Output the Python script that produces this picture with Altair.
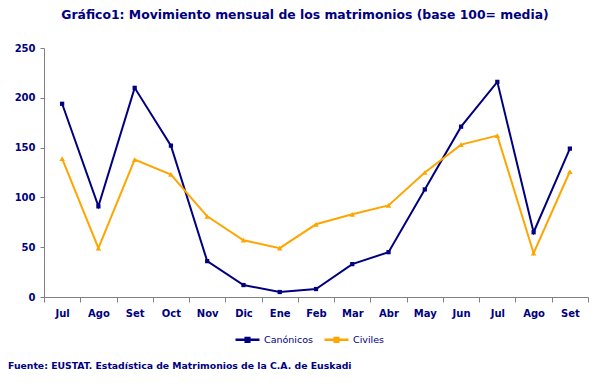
import altair as alt
import pandas as pd

months = ["Jul", "Ago", "Set", "Oct", "Nov", "Dic", "Ene", "Feb", "Mar", "Abr",
          "May", "Jun", "Jul", "Ago", "Set"]
canonicos = [194, 91, 210, 152, 36, 12, 5, 8, 33, 45, 108, 171, 216, 65, 149]
civiles = [139, 49, 138, 123, 81, 57, 49, 73, 83, 92, 125, 153, 162, 44, 126]
series = ["Canónicos", "Civiles"]

keys = [f"{m}-{i}" for i, m in enumerate(months)]
rows = []
for k, v in zip(keys, canonicos):
    rows.append({"mes": k, "serie": series[0], "marca": series[0], "valor": v})
for k, v in zip(keys, civiles):
    rows.append({"mes": k, "serie": series[1], "marca": series[1], "valor": v})
df = pd.DataFrame(rows)

NAVY = "#000080"
ORANGE = "#FFA500"
FONT = "DejaVu Sans"

x = alt.X("mes:N", sort=keys, title=None,
          scale=alt.Scale(type="band", paddingInner=0, paddingOuter=0),
          bandPosition=0.5,
          axis=alt.Axis(labelExpr="split(datum.label, '-')[0]", labelAngle=0,
                        tickBand="extent", labelPadding=6, tickSize=5))
y = alt.Y("valor:Q", title=None,
          scale=alt.Scale(domain=[0, 250], nice=False),
          axis=alt.Axis(values=[0, 50, 100, 150, 200, 250], grid=False,
                        tickSize=4, labelPadding=5))
color = alt.Color("serie:N", scale=alt.Scale(domain=series, range=[NAVY, ORANGE]),
                  legend=alt.Legend(title=None, orient="none", direction="horizontal",
                                    legendX=190, legendY=278,
                                    symbolType="M-1,0L1,0M-0.15,-0.15L0.15,-0.15L0.15,0.15L-0.15,0.15Z",
                                    symbolSize=576, symbolStrokeWidth=2.5,
                                    labelFont=FONT, labelFontSize=9.5, labelColor=NAVY,
                                    labelFontWeight="normal", columnPadding=6,
                                    labelOffset=3, symbolOffset=0))

lines = alt.Chart(df).mark_line(strokeWidth=2).encode(x=x, y=y, color=color)
points = alt.Chart(df).mark_point(filled=True, opacity=1).encode(
    x=x, y=y,
    fill=alt.Fill("marca:N", scale=alt.Scale(domain=series, range=[NAVY, ORANGE]), legend=None),
    shape=alt.Shape("marca:N", scale=alt.Scale(domain=series, range=["square", "triangle-up"]),
                    legend=None),
    size=alt.Size("marca:N", scale=alt.Scale(domain=series, range=[18, 30]), legend=None),
)
source = alt.Chart(pd.DataFrame({"t": ["Fuente: EUSTAT. Estadística de Matrimonios de la C.A. de Euskadi"]})).mark_text(
    align="left", baseline="middle", font=FONT, fontSize=9.3, fontWeight="bold", color=NAVY
).encode(x=alt.value(-36), y=alt.value(318), text="t:N")

chart = alt.layer(lines, points, source).resolve_scale(color="independent").properties(
    width=544, height=249,
    title=alt.TitleParams("Gráfico1: Movimiento mensual de los matrimonios (base 100= media)",
                          font=FONT, fontSize=12.4, fontWeight="bold", color=NAVY,
                          anchor="middle", offset=22, dx=-11),
    autosize=alt.AutoSizeParams(type="none"),
    padding={"left": 36, "top": 40, "right": 19, "bottom": 79},
).configure_view(stroke=None).configure_axis(
    domainColor="#808080", tickColor="#808080", labelColor=NAVY, labelFont=FONT,
    labelFontSize=10, labelFontWeight="bold"
)

chart.save("out.html", embed_options={"renderer": "svg", "actions": False})
